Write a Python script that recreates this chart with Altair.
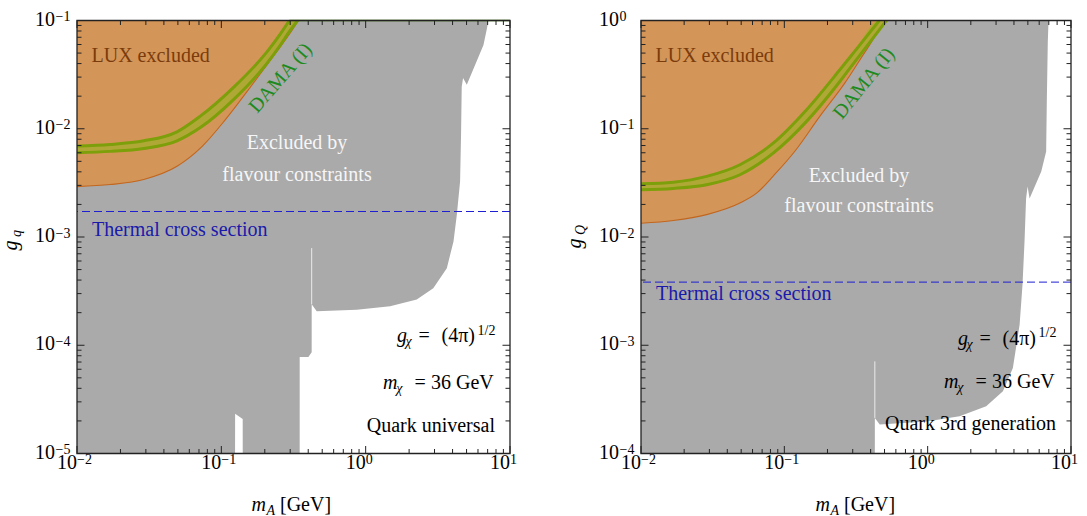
import altair as alt
import pandas as pd

FONT = "Liberation Serif"

GRAY = "#AAAAAA"
ORANGE = "#D49558"
LUX_EDGE = "#C2661E"
DAMA_FILL = "#B0A836"
DAMA_EDGE = "#7C9F0A"
DAMA_TEXT = "#1E8A1E"
LUX_TEXT = "#7A3C0C"
BLUE_TEXT = "#1A1AAA"
BLUE_LINE = "#1E1ED2"
FRAME = "#222222"

# ---------------- axes ----------------
X_DECADES = [-2, -1, 0, 1]
Y_DECADES_Q = [-5, -4, -3, -2, -1]
Y_DECADES_B = [-4, -3, -2, -1, 0]

# ---------------- quark universal (g_q) ----------------
GRAY_Q_X = [0.01, 0.1245, 0.1246, 0.1406, 0.1407, 0.349, 0.3491, 0.401, 0.4226,
            0.4227, 0.458, 0.867, 1.476, 2.26, 2.94, 3.65, 4.06, 4.28, 4.51,
            4.58, 4.63, 4.73, 5.02, 6.55, 6.91, 7.08]
GRAY_Q_G = [1e-5, 1e-5, 2.33e-5, 2.08e-5, 1e-5, 1e-5, 7.8e-5, 7.8e-5, 8.6e-5,
            2.39e-4, 2.06e-4, 2.13e-4, 2.29e-4, 2.64e-4, 3.37e-4, 5.15e-4,
            9.1e-4, 1.6e-3, 3.25e-3, 8.8e-3, 2.44e-2, 2.95e-2, 2.55e-2,
            5.94e-2, 8.35e-2, 0.1]
LUX_Q_X = [0.01, 0.017, 0.029, 0.0493, 0.0731, 0.106, 0.158, 0.2355, 0.301, 0.342]
LUX_Q_G = [2.92e-3, 3.05e-3, 3.4e-3, 4.5e-3, 6.8e-3, 1.2e-2, 2.4e-2, 4.9e-2, 7.7e-2, 0.1]
DAMA_Q_X = [0.01, 0.017, 0.029, 0.0493, 0.0711, 0.121, 0.2064, 0.258, 0.296, 0.338]
DAMA_Q_HI = [6.93e-3, 7.16e-3, 7.74e-3, 9.37e-3, 1.3e-2, 2.4e-2, 5.1e-2, 7.6e-2, 0.1, 0.1]
DAMA_Q_LO = [6.01e-3, 6.18e-3, 6.58e-3, 7.74e-3, 1.02e-2, 1.85e-2, 4.0e-2, 6.0e-2, 7.9e-2, 0.1]
THERMAL_Q = 1.72e-3
SEAM_Q = [0.4226, 2.39e-4, 7.9e-4]

# ---------------- quark 3rd generation (g_Q) ----------------
GRAY_B_X = [0.01, 0.428, 0.4281, 0.463, 0.98, 1.67, 2.56, 3.35, 3.93, 4.38,
            4.59, 4.74, 4.86, 4.98, 5.14, 6.2, 6.71, 6.78, 6.89, 6.97]
GRAY_B_G = [1e-4, 1e-4, 2.13e-4, 1.85e-4, 1.98e-4, 2.21e-4, 2.73e-4, 3.75e-4,
            6.16e-4, 1.55e-3, 3.65e-3, 9.1e-3, 2.27e-2, 2.93e-2, 2.27e-2,
            4.03e-2, 6.17e-2, 0.179, 0.64, 1.0]
LUX_B_X = [0.01, 0.0168, 0.0287, 0.049, 0.064, 0.0859, 0.1184, 0.1767, 0.264,
           0.374, 0.515, 0.525]
LUX_B_G = [1.34e-2, 1.42e-2, 1.61e-2, 2.06e-2, 2.54e-2, 3.8e-2, 6.2e-2, 0.13,
           0.264, 0.536, 0.98, 1.0]
DAMA_B_X = [0.01, 0.0168, 0.0287, 0.049, 0.0836, 0.143, 0.244, 0.3016, 0.46, 0.515]
DAMA_B_HI = [3.1e-2, 3.21e-2, 3.63e-2, 4.65e-2, 7.36e-2, 0.15, 0.351, 0.497, 1.0, 1.0]
DAMA_B_LO = [2.73e-2, 2.81e-2, 3.04e-2, 3.76e-2, 5.95e-2, 0.117, 0.273, 0.396, 0.82, 1.0]
THERMAL_B = 3.83e-3
SEAM_B = [0.428, 2.13e-4, 7.1e-4]

H = 433
FS = 20      # main text size
FS_S = 14    # sub/superscript size
ONE = pd.DataFrame({"k": [0]})


def sup(e):
    return ("\u2212" if e < 0 else "") + str(abs(e))


def minor(lo, hi):
    return [k * 10.0 ** e for e in range(lo, hi) for k in range(2, 10)]


def txt(t, x, y, size=FS, color="black", align="left", style="normal",
        angle=0, baseline="alphabetic"):
    return alt.Chart(ONE).mark_text(
        text=t, font=FONT, fontSize=size, color=color, align=align,
        fontStyle=style, angle=angle, baseline=baseline,
    ).encode(x=alt.value(x), y=alt.value(y))


def panel(w, ydec, gray_x, gray_g, lux_x, lux_g, dama_x, dama_hi, dama_lo,
          thermal, seam, ysub, tag, pos, green_top):
    top = 10.0 ** ydec[-1]
    xs = alt.Scale(type="log", domain=[0.01, 10])
    ys = alt.Scale(type="log", domain=[10.0 ** ydec[0], top])
    X = alt.X("x:Q", scale=xs, axis=None)
    Y = alt.Y("g:Q", scale=ys, axis=None)

    layers = []
    # flavour-excluded region
    gdf = pd.DataFrame({"x": gray_x, "g": gray_g, "top": top})
    layers.append(alt.Chart(gdf).mark_area(color=GRAY, clip=True).encode(
        x=X, y=Y, y2="top:Q"))
    # thin seam between the two flavour pieces
    sdf = pd.DataFrame({"x": [seam[0]], "g": [seam[1]], "g2": [seam[2]]})
    layers.append(alt.Chart(sdf).mark_rule(color="white", strokeWidth=1, opacity=0.75).encode(
        x=X, y=Y, y2="g2:Q"))
    # LUX
    ldf = pd.DataFrame({"x": lux_x, "g": lux_g, "top": top})
    layers.append(alt.Chart(ldf).mark_area(color=ORANGE, clip=True, interpolate="monotone").encode(
        x=X, y=Y, y2="top:Q"))
    layers.append(alt.Chart(ldf).mark_line(color=LUX_EDGE, strokeWidth=1.1, clip=True,
                                           interpolate="monotone").encode(x=X, y=Y))
    # DAMA band
    ddf = pd.DataFrame({"x": dama_x, "g": dama_lo, "hi": dama_hi})
    layers.append(alt.Chart(ddf).mark_area(color=DAMA_FILL, clip=True, interpolate="monotone").encode(
        x=X, y=Y, y2="hi:Q"))
    lo_df = pd.DataFrame({"x": dama_x, "g": dama_lo})
    hi_df = pd.DataFrame({"x": dama_x[:-1], "g": dama_hi[:-1]})
    for d in (lo_df, hi_df):
        layers.append(alt.Chart(d).mark_line(color=DAMA_EDGE, strokeWidth=3, clip=True,
                                             interpolate="monotone").encode(x=X, y=Y))
    if green_top:
        tdf = pd.DataFrame({"x": [dama_x[-2]], "x2": [10.0]})
        layers.append(alt.Chart(tdf).mark_rule(color="#4F8A10", strokeWidth=1.6).encode(
            x=X, x2="x2:Q", y=alt.value(0)))
    # thermal cross section
    layers.append(alt.Chart(pd.DataFrame({"g": [thermal]})).mark_rule(
        color=BLUE_LINE, strokeWidth=1, strokeDash=[8, 4]).encode(y=Y))

    # frame
    layers.append(alt.Chart(ONE).mark_rect(filled=False, stroke=FRAME, strokeWidth=1.3).encode(
        x=alt.value(0), x2=alt.value(w), y=alt.value(0), y2=alt.value(H)))

    # ticks on all four sides, pointing inward
    xmaj = pd.DataFrame({"x": [10.0 ** e for e in X_DECADES]})
    xmin = pd.DataFrame({"x": minor(X_DECADES[0], X_DECADES[-1])})
    ymaj = pd.DataFrame({"g": [10.0 ** e for e in ydec]})
    ymin = pd.DataFrame({"g": minor(ydec[0], ydec[-1])})
    for df, ln in ((xmaj, 7.5), (xmin, 4.5)):
        layers.append(alt.Chart(df).mark_rule(color=FRAME, strokeWidth=1).encode(
            x=X, y=alt.value(H), y2=alt.value(H - ln)))
        layers.append(alt.Chart(df).mark_rule(color=FRAME, strokeWidth=1).encode(
            x=X, y=alt.value(0), y2=alt.value(ln)))
    for df, ln in ((ymaj, 7.5), (ymin, 4.5)):
        layers.append(alt.Chart(df).mark_rule(color=FRAME, strokeWidth=1).encode(
            y=Y, x=alt.value(0), x2=alt.value(ln)))
        layers.append(alt.Chart(df).mark_rule(color=FRAME, strokeWidth=1).encode(
            y=Y, x=alt.value(w), x2=alt.value(w - ln)))

    # tick labels 10^n
    xl = pd.DataFrame({"x": [10.0 ** e for e in X_DECADES], "e": [sup(e) for e in X_DECADES]})
    layers.append(alt.Chart(xl).mark_text(text="10", font=FONT, fontSize=FS, align="right",
                                          baseline="alphabetic").encode(x=X, y=alt.value(H + 15.5)))
    layers.append(alt.Chart(xl).mark_text(font=FONT, fontSize=FS_S, align="left",
                                          baseline="alphabetic").encode(
        x=X, y=alt.value(H + 10.5), text="e:N"))
    yl = pd.DataFrame({"g": [10.0 ** e for e in ydec], "e": [sup(e) for e in ydec]})
    layers.append(alt.Chart(yl).mark_text(text="10", font=FONT, fontSize=FS, align="right",
                                          baseline="alphabetic", dy=5).encode(
        y=Y, x=alt.value(-22)))
    layers.append(alt.Chart(yl).mark_text(font=FONT, fontSize=FS_S, align="left",
                                          baseline="alphabetic", dy=0.5).encode(
        y=Y, x=alt.value(-21.5), text="e:N"))

    # axis titles
    layers += [
        txt("m", 174.5, 490.5, style="italic"),
        txt("A", 189.5, 494.5, size=FS_S, style="italic"),
        txt("[GeV]", 203, 490.5),
        txt("g", -60, pos["gy"], style="italic", angle=270),
        txt(ysub, -56.5, pos["gy"] - 13.5, size=FS_S, style="italic", angle=270),
    ]

    # annotations
    sx, sy = w - 113, pos["c1"]
    mx, my = w - 127, pos["c2"]
    layers += [
        txt("LUX excluded", 14.5, 41, color=LUX_TEXT),
        txt("DAMA (I)", pos["dx"], pos["dy"], color=DAMA_TEXT, align="center",
            angle=pos["da"], baseline="middle"),
        txt("Excluded by", pos["ex"], pos["e1"], color="#F6F6F6", align="center"),
        txt("flavour constraints", pos["ex"], pos["e2"], color="#F6F6F6", align="center"),
        txt("Thermal cross section", 15, pos["th"], color=BLUE_TEXT),
        txt("g", sx, sy, style="italic"),
        txt("\u03c7", sx + 8.5, sy + 4, size=FS_S, style="italic"),
        txt("=", sx + 21.5, sy),
        txt("(4\u03c0)", sx + 44.5, sy),
        txt("1/2", sx + 80.5, sy - 7.5, size=FS_S),
        txt("m", mx, my, style="italic"),
        txt("\u03c7", mx + 13.3, my + 4, size=FS_S, style="italic"),
        txt("=", mx + 31.5, my),
        txt("36 GeV", mx + 48, my),
        txt(tag, w - 15, pos["tag"], align="right"),
    ]
    return alt.layer(*layers).properties(width=w, height=H)


left = panel(433, Y_DECADES_Q, GRAY_Q_X, GRAY_Q_G, LUX_Q_X, LUX_Q_G,
             DAMA_Q_X, DAMA_Q_HI, DAMA_Q_LO, THERMAL_Q, SEAM_Q, "q",
             "Quark universal",
             dict(gy=230, c1=321.5, c2=368, tag=411, dx=203.5, dy=57.5, da=311,
                  ex=220, e1=128, e2=160, th=215),
             True)
right = panel(430, Y_DECADES_B, GRAY_B_X, GRAY_B_G, LUX_B_X, LUX_B_G,
              DAMA_B_X, DAMA_B_HI, DAMA_B_LO, THERMAL_B, SEAM_B, "Q",
              "Quark 3rd generation",
              dict(gy=228, c1=324, c2=367.7, tag=409.3, dx=223, dy=63, da=309,
                   ex=218, e1=161, e2=191, th=279.3),
              False)

chart = alt.hconcat(left, right, spacing=131, bounds="flush").properties(
    padding={"left": 1, "top": 9.5, "right": 0, "bottom": 2},
    background="white",
).configure_view(stroke=None)

chart.save("out.html", embed_options={"renderer": "svg", "actions": False})
